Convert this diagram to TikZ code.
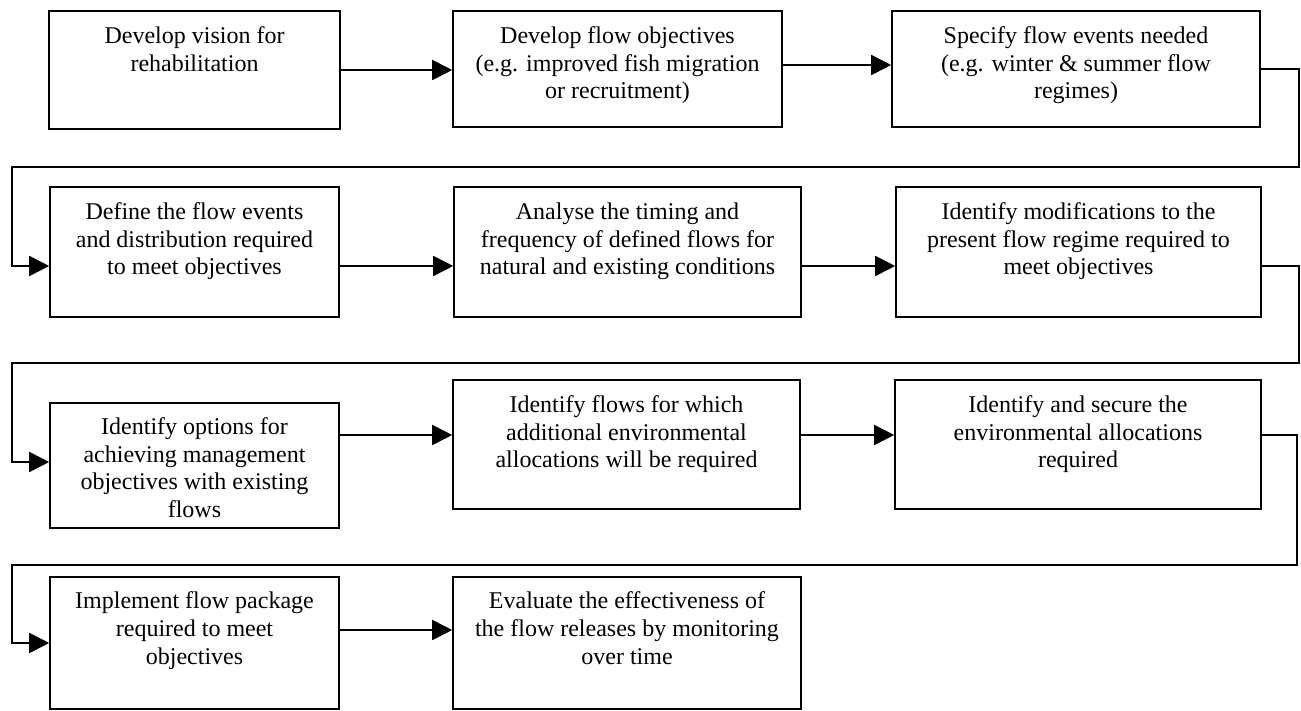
\documentclass[tikz,border=0pt]{standalone}
\usepackage{fontspec}
\setmainfont{Liberation Serif}
\usetikzlibrary{arrows.meta,fit,calc}
\begin{document}
\begin{tikzpicture}[x=1pt,y=-1pt,
  box/.style={draw=black, line width=1.6pt, inner sep=0pt, rectangle},
  txt/.style={anchor=north, align=center, inner sep=0pt, font=\fontsize{24}{27.7}\selectfont},
  conn/.style={draw=black, line width=1.8pt},
  arr/.style={conn, -{Triangle[length=20pt,width=20pt]}}]
\fill[white] (0,0) rectangle (1301,711);
\useasboundingbox (0,0) rectangle (1301,711);

% boxes
\node[box, fit={(49,11)(340,129)}] (A) {};
\node[box, fit={(453,11)(782,127)}] (B) {};
\node[box, fit={(892,11)(1260,127)}] (C) {};
\node[box, fit={(50,187)(339,317)}] (D) {};
\node[box, fit={(454,187)(801,317)}] (E) {};
\node[box, fit={(896,187)(1261,317)}] (F) {};
\node[box, fit={(50,403)(339,528)}] (G) {};
\node[box, fit={(453,380)(800,509)}] (H) {};
\node[box, fit={(895,380)(1261,509)}] (I) {};
\node[box, fit={(50,577)(339,709)}] (J) {};
\node[box, fit={(453,577)(801,709)}] (K) {};

% texts
\node[txt] (At) at ($(A.north)+(0,13.7)$) {\strut Develop vision for\\rehabilitation};
\node[txt] (Bt) at ($(B.north)+(0,13.7)$) {\strut Develop flow objectives\\(e.g. improved fish migration\\or recruitment)};
\node[txt] (Ct) at ($(C.north)+(0,13.7)$) {\strut Specify flow events needed\\(e.g. winter \& summer flow\\regimes)};
\node[txt] (Dt) at ($(D.north)+(0,13.7)$) {\strut Define the flow events\\and distribution required\\to meet objectives};
\node[txt] (Et) at ($(E.north)+(0,13.7)$) {\strut Analyse the timing and\\frequency of defined flows for\\natural and existing conditions};
\node[txt] (Ft) at ($(F.north)+(0,13.7)$) {\strut Identify modifications to the\\present flow regime required to\\meet objectives};
\node[txt] (Gt) at ($(G.north)+(0,12.7)$) {\strut Identify options for\\achieving management\\objectives with existing\\flows};
\node[txt] (Ht) at ($(H.north)+(0,13.7)$) {\strut Identify flows for which\\additional environmental\\allocations will be required};
\node[txt] (It) at ($(I.north)+(0,13.7)$) {\strut Identify and secure the\\environmental allocations\\required};
\node[txt] (Jt) at ($(J.north)+(0,13.2)$) {\strut Implement flow package\\required to meet\\objectives};
\node[txt] (Kt) at ($(K.north)+(0,13.2)$) {\strut Evaluate the effectiveness of\\the flow releases by monitoring\\over time};

% bend points
\coordinate (k1) at (1299,167);
\coordinate (k2) at (12,167);
\coordinate (k3) at (1299,363);
\coordinate (k4) at (12,363);
\coordinate (k5) at (1297,565);
\coordinate (k6) at (12,565);

% row 1
\draw[arr] (A.east) -- (A.east -| B.west);
\coordinate (b1) at ($(B.east)+(0,-4)$);
\draw[arr] (b1) -- (b1 -| C.west);
\coordinate (d1) at ($(D.west)+(0,14)$);
\draw[arr] (C.east) -| (k1) -- (k2) |- (d1);

% row 2
\coordinate (d2) at ($(D.east)+(0,14)$);
\draw[arr] (d2) -- (d2 -| E.west);
\coordinate (e2) at ($(E.east)+(0,14)$);
\draw[arr] (e2) -- (e2 -| F.west);
\coordinate (f2) at ($(F.east)+(0,14)$);
\coordinate (g1) at ($(G.west)+(0,-3.5)$);
\draw[arr] (f2) -| (k3) -- (k4) |- (g1);

% row 3
\coordinate (g2) at ($(G.east)+(0,-30.5)$);
\draw[arr] (g2) -- (g2 -| H.west);
\coordinate (h2) at ($(H.east)+(0,-9.5)$);
\draw[arr] (h2) -- (h2 -| I.west);
\coordinate (i2) at ($(I.east)+(0,-9.5)$);
\draw[arr] (i2) -| (k5) -- (k6) |- (J.west);

% row 4
\coordinate (j2) at ($(J.east)+(0,-13)$);
\draw[arr] (j2) -- (j2 -| K.west);
\end{tikzpicture}
\end{document}
